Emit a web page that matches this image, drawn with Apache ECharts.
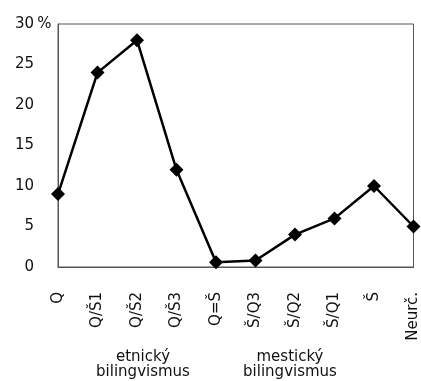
<!DOCTYPE html>
<html><head><meta charset="utf-8">
<script src="https://cdn.jsdelivr.net/npm/echarts@6/dist/echarts.min.js"></script>
<style>html,body{margin:0;padding:0;background:#fff}#c{width:421px;height:381px}</style>
</head><body><div id="c"></div>
<script>
const categories = ['Q','Q/Š1','Q/Š2','Q/Š3','Q=Š','Š/Q3','Š/Q2','Š/Q1','Š','Neurč.'];
const values = [9, 24, 28, 12, 0.6, 0.8, 4, 6, 10, 5];
const yTicks = [0, 5, 10, 15, 20, 25, 30];
const groupLabels = ['etnický\nbilingvismus', 'mestický\nbilingvismus'];

const chart = echarts.init(document.getElementById('c'), null, {renderer:'canvas'});
const font = 'DejaVu Sans, sans-serif';
const fs = 15;
chart.setOption({
  animation:false,
  grid:{left:58,right:7,top:24,bottom:114,show:true,borderColor:'#555',borderWidth:1,backgroundColor:'transparent'},
  xAxis:{type:'category',data:categories,boundaryGap:false,
    axisLine:{show:true,lineStyle:{color:'#555',width:1}},axisTick:{show:false},
    axisLabel:{rotate:90,margin:25,fontFamily:font,fontSize:fs,color:'#111',interval:0},
    splitLine:{show:false}},
  yAxis:{type:'value',min:0,max:30,interval:5,
    axisLine:{show:true,lineStyle:{color:'#555',width:1}},axisTick:{show:false},splitLine:{show:false},
    axisLabel:{margin:6,fontFamily:font,fontSize:fs,color:'#111',
      formatter:function(v){return '{n|'+v+'}{p|'+(v===yTicks[6]?'%':'')+'}';},
      rich:{n:{fontFamily:font,fontSize:fs,color:'#111'},
            p:{width:15,padding:[0,0,0,3],align:'left',fontFamily:font,fontSize:fs,color:'#111'}}}},
  series:[{type:'line',data:values,symbol:'diamond',symbolSize:14,
    lineStyle:{color:'#000',width:2.5},itemStyle:{color:'#000'}}],
  graphic:[
    {type:'text',x:143,y:350,style:{text:groupLabels[0],font:fs+'px '+font,fill:'#111',align:'center',verticalAlign:'top',lineHeight:15}},
    {type:'text',x:290,y:350,style:{text:groupLabels[1],font:fs+'px '+font,fill:'#111',align:'center',verticalAlign:'top',lineHeight:15}}
  ]
});
</script></body></html>
